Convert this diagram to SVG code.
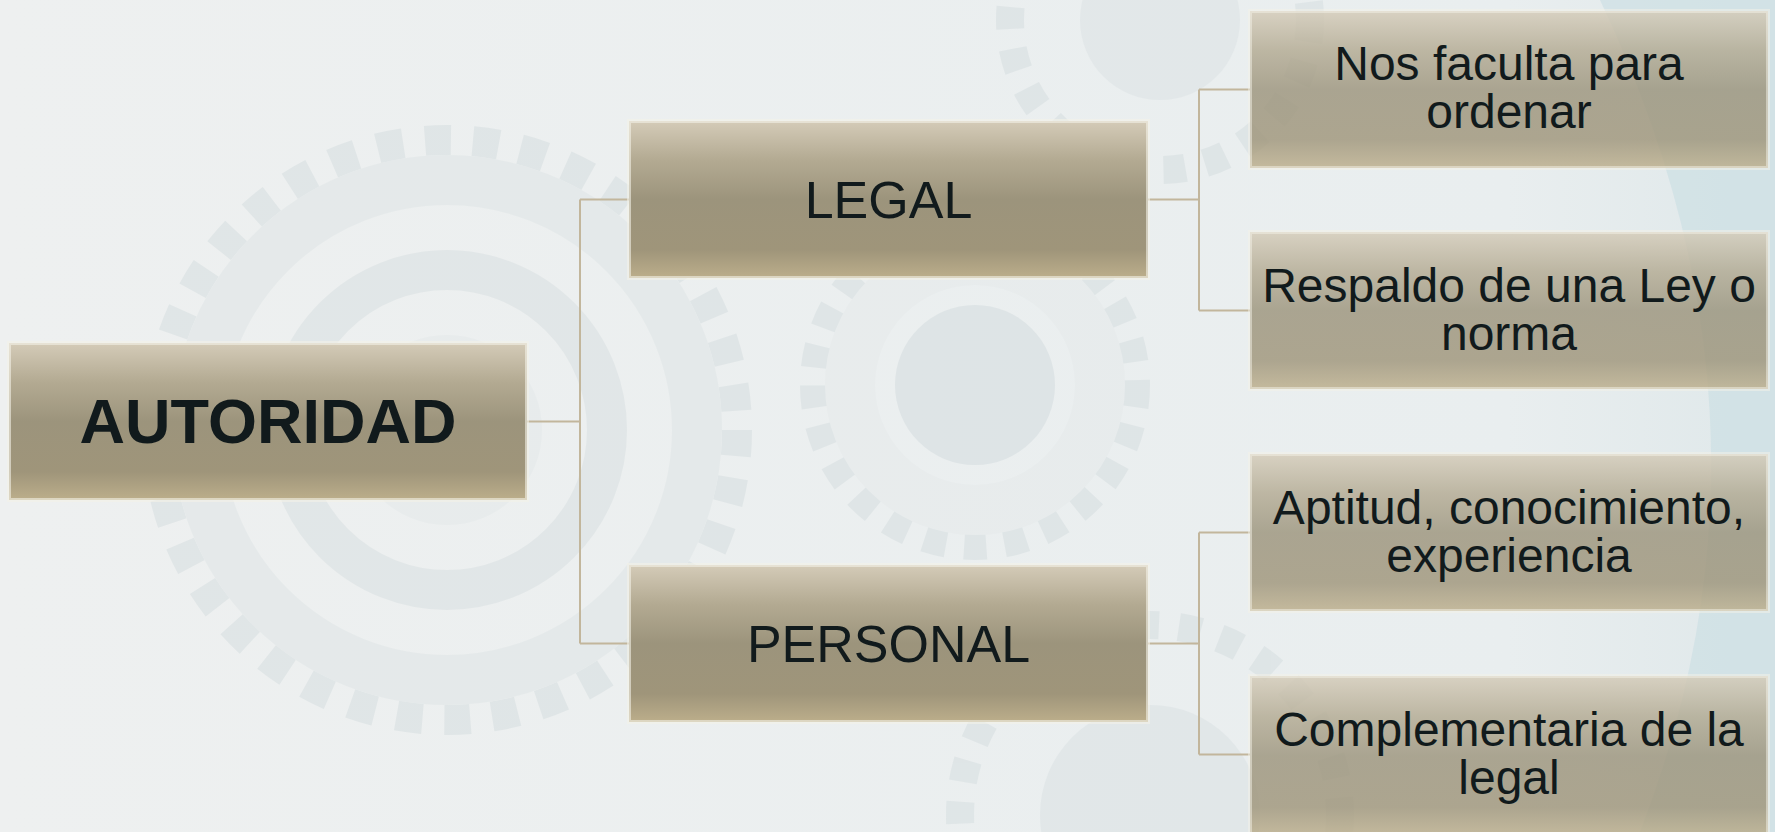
<svg xmlns="http://www.w3.org/2000/svg" width="1775" height="832" viewBox="0 0 1775 832">
<defs>
<linearGradient id="bg" x1="0" y1="0" x2="1" y2="0">
<stop offset="0" stop-color="#eef0f0"/>
<stop offset="0.85" stop-color="#e9eeef"/>
<stop offset="1" stop-color="#dfe8ea"/>
</linearGradient>
<linearGradient id="box" x1="0" y1="0" x2="0" y2="1">
<stop offset="0" stop-color="#d4cbb8"/>
<stop offset="0.25" stop-color="#b3aa92"/>
<stop offset="0.5" stop-color="#9c947c"/>
<stop offset="0.82" stop-color="#9f957a"/>
<stop offset="1" stop-color="#bcae8b"/>
</linearGradient>
<style>
.node rect{fill:url(#box);stroke:#f4f1e8;stroke-opacity:0.6;stroke-width:4}
.leaf rect{fill:url(#box);fill-opacity:0.82;stroke:#f4f1e8;stroke-opacity:0.5;stroke-width:4}
text{font-family:"Liberation Sans",Arial,sans-serif;fill:#111a1c;text-anchor:middle}
.big{font-size:63px;font-weight:bold}
.mid{font-size:52px}
.sm{font-size:48px}
.conn path{fill:none;stroke:#c2b69c;stroke-width:2}
.gear{fill:none;stroke:#d6dee0}
</style>
</defs>
<rect width="1775" height="832" fill="url(#bg)"/>
<!-- faint background gears -->
<g opacity="0.55">
<path d="M1600 0 Q1800 420 1640 832 L1775 832 L1775 0 Z" fill="#c6dce1"/>
<circle cx="447" cy="430" r="290" class="gear" stroke-width="30" stroke-dasharray="26 22"/>
<circle cx="447" cy="430" r="250" fill="none" stroke="#dfe5e6" stroke-width="50"/>
<circle cx="447" cy="430" r="160" fill="none" stroke="#d9e0e2" stroke-width="40"/>
<circle cx="447" cy="430" r="95" fill="#e4e9ea"/>
<circle cx="975" cy="385" r="160" class="gear" stroke-width="30" stroke-dasharray="22 18"/>
<circle cx="975" cy="385" r="125" fill="none" stroke="#e6eaeb" stroke-width="50"/>
<circle cx="975" cy="385" r="80" fill="#d4dcdf"/>
<circle cx="1150" cy="815" r="190" class="gear" stroke-width="28" stroke-dasharray="22 20"/>
<circle cx="1150" cy="815" r="110" fill="#dbe2e4"/>
<circle cx="1160" cy="20" r="150" class="gear" stroke-width="28" stroke-dasharray="22 20"/>
<circle cx="1160" cy="20" r="80" fill="#dde3e5"/>
</g>
<g class="conn" id="connectors">
<path d="M527 421.5 H580 M580 199.5 V643.5 M580 199.5 H629 M580 643.5 H629"/>
<path d="M1148 199.5 H1199 M1199 89.5 V310.5 M1199 89.5 H1250 M1199 310.5 H1250"/>
<path d="M1148 643.5 H1199 M1199 532.5 V754.5 M1199 532.5 H1250 M1199 754.5 H1250"/>
</g>
<g id="autoridad" class="node"><rect x="9" y="343" width="518" height="157"/><text class="big" x="268" y="443">AUTORIDAD</text></g>
<g id="legal" class="node"><rect x="629" y="121" width="519" height="157"/><text class="mid" x="888.5" y="218">LEGAL</text></g>
<g id="personal" class="node"><rect x="629" y="565" width="519" height="157"/><text class="mid" x="888.5" y="662">PERSONAL</text></g>
<g id="faculta" class="leaf"><rect x="1250" y="11" width="518" height="157"/><text class="sm" x="1509" y="80">Nos faculta para</text><text class="sm" x="1509" y="128">ordenar</text></g>
<g id="respaldo" class="leaf"><rect x="1250" y="232" width="518" height="157"/><text class="sm" x="1509" y="302">Respaldo de una Ley o</text><text class="sm" x="1509" y="350">norma</text></g>
<g id="aptitud" class="leaf"><rect x="1250" y="454" width="518" height="157"/><text class="sm" x="1509" y="524">Aptitud, conocimiento,</text><text class="sm" x="1509" y="572">experiencia</text></g>
<g id="complementaria" class="leaf"><rect x="1250" y="676" width="518" height="160"/><text class="sm" x="1509" y="746">Complementaria de la</text><text class="sm" x="1509" y="794">legal</text></g>
</svg>
